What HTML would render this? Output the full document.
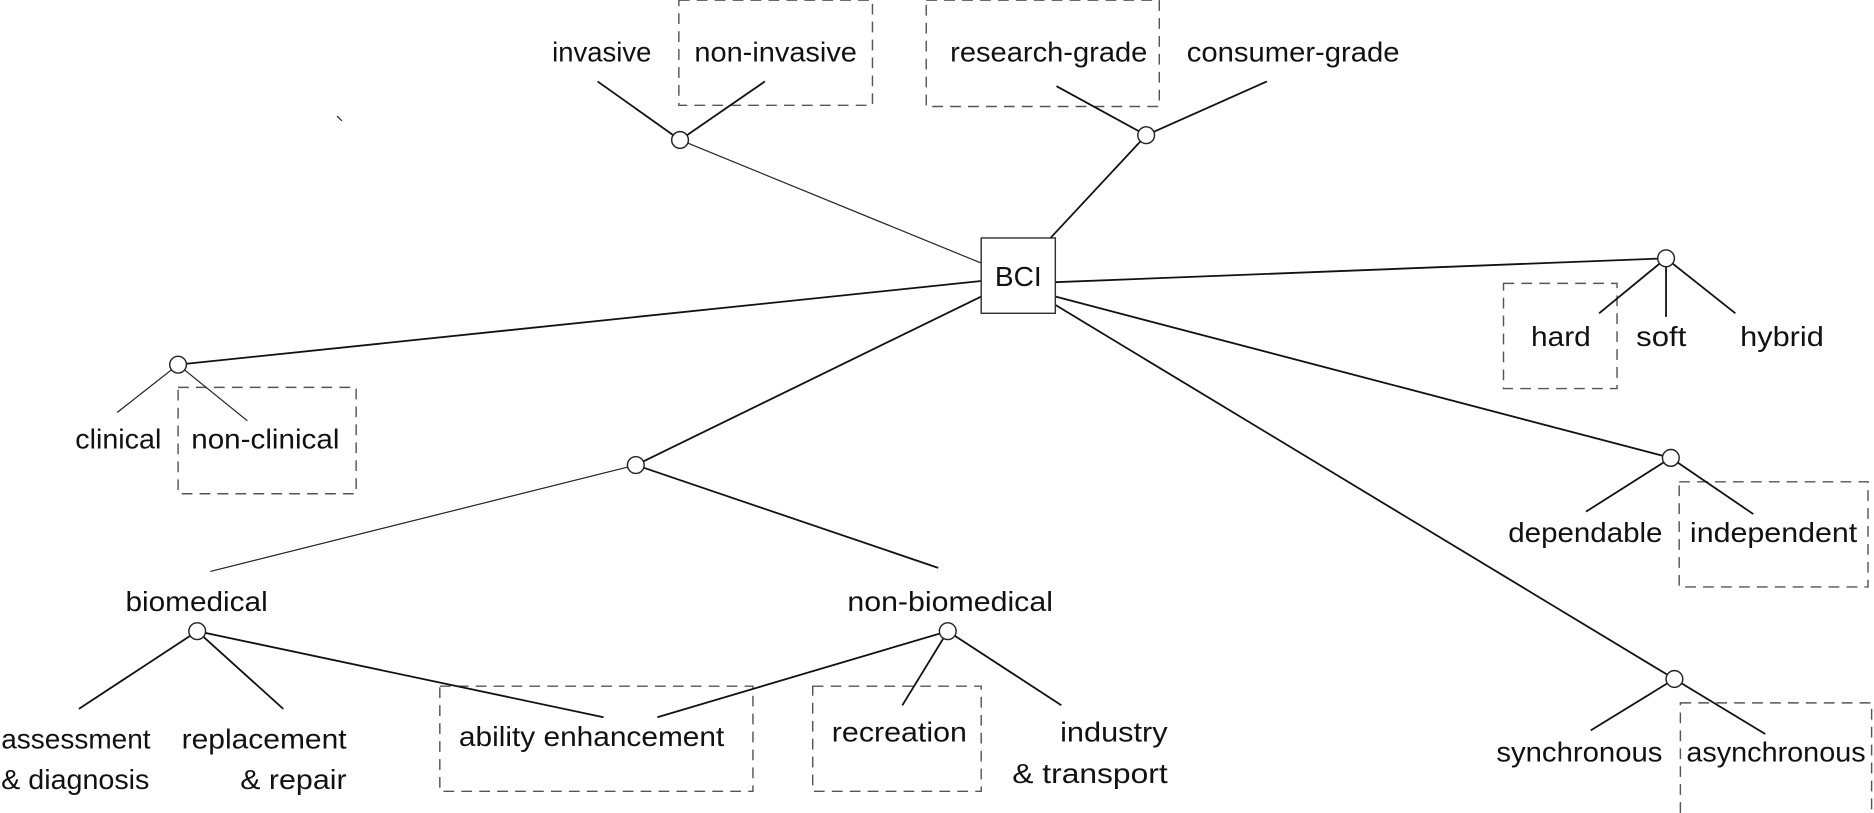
<!DOCTYPE html>
<html><head><meta charset="utf-8"><style>
html,body{margin:0;padding:0;background:#fff;}
svg{display:block}
text{font-family:"Liberation Sans",sans-serif;font-size:23.5px;fill:#111;font-weight:300;dominant-baseline:middle;}
.dash{fill:none;stroke:#555;stroke-width:1.2;stroke-dasharray:9 6}
.ln{stroke:#111;stroke-width:1.5;fill:none}
.th{stroke:#222;stroke-width:1;fill:none}
.nd{fill:#fff;stroke:#222;stroke-width:1.2}
</style></head><body>
<svg width="1874" height="813" viewBox="0 0 1568 680">
<g>
<rect class="dash" x="568" y="0" width="162" height="88"/>
<rect class="dash" x="775" y="0" width="195" height="89"/>
<rect class="dash" x="1258" y="237" width="95" height="88"/>
<rect class="dash" x="149" y="324" width="149" height="89"/>
<rect class="dash" x="1405" y="403" width="158" height="88"/>
<rect class="dash" x="1406" y="588" width="160" height="96"/>
<rect class="dash" x="368" y="574" width="262" height="88"/>
<rect class="dash" x="680" y="574" width="141" height="88"/>
</g>
<g>
<line class="th" x1="821" y1="220" x2="569" y2="117"/>
<line class="ln" x1="500" y1="68" x2="569" y2="117"/><line class="ln" x1="640" y1="68" x2="569" y2="117"/>
<line class="ln" x1="878" y1="200" x2="959" y2="113"/>
<line class="ln" x1="884" y1="72" x2="959" y2="113"/><line class="ln" x1="1060" y1="68" x2="959" y2="113"/>
<line class="ln" x1="883" y1="236" x2="1394" y2="216"/>
<line class="ln" x1="1338" y1="262" x2="1394" y2="216"/><line class="ln" x1="1394" y1="265" x2="1394" y2="216"/><line class="ln" x1="1452" y1="262" x2="1394" y2="216"/>
<line class="ln" x1="821" y1="235" x2="149" y2="305"/>
<line class="th" x1="98" y1="345" x2="149" y2="305"/><line class="th" x1="207" y1="352" x2="149" y2="305"/>
<line class="ln" x1="821" y1="248" x2="532" y2="389"/>
<line class="th" x1="176" y1="478" x2="532" y2="389"/><line class="ln" x1="785" y1="475" x2="532" y2="389"/>
<line class="ln" x1="66" y1="593" x2="165" y2="528"/><line class="ln" x1="237" y1="593" x2="165" y2="528"/><line class="ln" x1="505" y1="600" x2="165" y2="528"/>
<line class="ln" x1="550" y1="600" x2="793" y2="528"/><line class="ln" x1="755" y1="590" x2="793" y2="528"/><line class="ln" x1="888" y1="590" x2="793" y2="528"/>
<line class="ln" x1="883" y1="248" x2="1398" y2="383"/>
<line class="ln" x1="1327" y1="428" x2="1398" y2="383"/><line class="ln" x1="1467" y1="430" x2="1398" y2="383"/>
<line class="ln" x1="883" y1="255" x2="1401" y2="568"/>
<line class="ln" x1="1331" y1="611" x2="1401" y2="568"/><line class="ln" x1="1477" y1="614" x2="1401" y2="568"/>
<line class="th" x1="282" y1="97" x2="286" y2="101"/>
</g>
<g>
<circle class="nd" cx="569" cy="117" r="7"/><circle class="nd" cx="959" cy="113" r="7"/>
<circle class="nd" cx="1394" cy="216" r="7"/><circle class="nd" cx="149" cy="305" r="7"/>
<circle class="nd" cx="532" cy="389" r="7"/><circle class="nd" cx="165" cy="528" r="7"/>
<circle class="nd" cx="793" cy="528" r="7"/><circle class="nd" cx="1398" cy="383" r="7"/>
<circle class="nd" cx="1401" cy="568" r="7"/>
</g>
<rect x="821" y="199" width="62" height="63" fill="#fff" stroke="#333" stroke-width="1.2"/>
<text x="852" y="233" text-anchor="middle">BCI</text>
<g transform="translate(0,2)">
<text x="462" y="43" textLength="83" lengthAdjust="spacingAndGlyphs">invasive</text>
<text x="581" y="43" textLength="136" lengthAdjust="spacingAndGlyphs">non-invasive</text>
<text x="795" y="43" textLength="165" lengthAdjust="spacingAndGlyphs">research-grade</text>
<text x="993" y="43" textLength="178" lengthAdjust="spacingAndGlyphs">consumer-grade</text>
<text x="1281" y="281" textLength="50" lengthAdjust="spacingAndGlyphs">hard</text>
<text x="1369" y="281" textLength="42" lengthAdjust="spacingAndGlyphs">soft</text>
<text x="1456" y="281" textLength="70" lengthAdjust="spacingAndGlyphs">hybrid</text>
<text x="63" y="367" textLength="72" lengthAdjust="spacingAndGlyphs">clinical</text>
<text x="160" y="367" textLength="124" lengthAdjust="spacingAndGlyphs">non-clinical</text>
<text x="1262" y="445" textLength="129" lengthAdjust="spacingAndGlyphs">dependable</text>
<text x="1414" y="445" textLength="140" lengthAdjust="spacingAndGlyphs">independent</text>
<text x="105" y="503" textLength="119" lengthAdjust="spacingAndGlyphs">biomedical</text>
<text x="709" y="503" textLength="172" lengthAdjust="spacingAndGlyphs">non-biomedical</text>
<text x="1" y="618" textLength="125" lengthAdjust="spacingAndGlyphs">assessment</text>
<text x="1" y="652" textLength="124" lengthAdjust="spacingAndGlyphs">&amp; diagnosis</text>
<text x="152" y="618" textLength="138" lengthAdjust="spacingAndGlyphs">replacement</text>
<text x="201" y="652" textLength="89" lengthAdjust="spacingAndGlyphs">&amp; repair</text>
<text x="384" y="616" textLength="222" lengthAdjust="spacingAndGlyphs">ability enhancement</text>
<text x="696" y="612" textLength="113" lengthAdjust="spacingAndGlyphs">recreation</text>
<text x="887" y="612" textLength="90" lengthAdjust="spacingAndGlyphs">industry</text>
<text x="847" y="647" textLength="130" lengthAdjust="spacingAndGlyphs">&amp; transport</text>
<text x="1252" y="629" textLength="139" lengthAdjust="spacingAndGlyphs">synchronous</text>
<text x="1411" y="629" textLength="150" lengthAdjust="spacingAndGlyphs">asynchronous</text>
</g>
</svg>
</body></html>
